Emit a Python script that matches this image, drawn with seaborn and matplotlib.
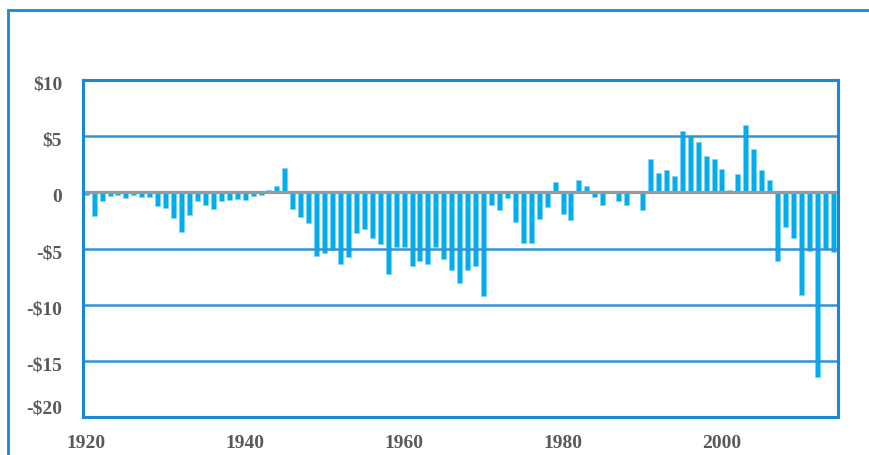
import matplotlib
matplotlib.use("Agg")
import matplotlib.pyplot as plt
import matplotlib.transforms as mtrans
from matplotlib.patches import Rectangle
import seaborn as sns
import pandas as pd

# yearly values (1920-2014)
years = list(range(1920, 2015))
values = [
    -0.2, -2.1, -0.8, -0.3, -0.2, -0.5, -0.25, -0.4, -0.4, -1.2,   # 1920s
    -1.4, -2.3, -3.5, -2.0, -0.8, -1.1, -1.5, -0.8, -0.7, -0.6,    # 1930s
    -0.65, -0.35, -0.2, 0.2, 0.6, 2.2, -1.5, -2.2, -2.7, -5.7,     # 1940s
    -5.4, -5.1, -6.4, -5.8, -3.6, -3.3, -4.1, -4.6, -7.3, -4.9,    # 1950s
    -4.85, -6.6, -6.1, -6.4, -4.9, -5.95, -6.9, -8.1, -6.9, -6.6,  # 1960s
    -9.2, -1.1, -1.55, -0.5, -2.6, -4.5, -4.5, -2.4, -1.35, 0.9,   # 1970s
    -1.9, -2.5, 1.1, 0.6, -0.4, -1.15, 0.15, -0.75, -1.15, 0.0,    # 1980s
    -1.55, 3.0, 1.75, 2.0, 1.45, 5.5, 5.0, 4.5, 3.25, 2.95,        # 1990s
    2.1, 0.2, 1.6, 5.95, 3.9, 1.95, 1.1, -6.1, -3.05, -4.1,        # 2000s
    -9.1, -5.2, -16.4, -5.05, -5.35,                               # 2010s
]
ytick_values = [10, 5, 0, -5, -10, -15, -20]
ytick_labels = ["\\$10", "\\$5", "0", "-\\$5", "-\\$10", "-\\$15", "-\\$20"]
xtick_values = [1920, 1940, 1960, 1980, 2000]

bar_color = "#00aeef"
frame_color = "#1a88d2"
grid_color = "#2f94d6"
text_color = "#595959"

sns.set_style("white")
plt.rcParams["font.family"] = ["Liberation Serif", "DejaVu Serif"]

fig = plt.figure(figsize=(8.69, 4.55), dpi=100)
ax = fig.add_axes([83 / 869, 1 - 417 / 455, (838 - 83) / 869, (417 - 80) / 455])

df = pd.DataFrame({"year": years, "value": values})
sns.barplot(data=df, x="year", y="value", native_scale=True, width=0.63,
            color=bar_color, saturation=1, errorbar=None,
            edgecolor="#7fd3f5", linewidth=0.4, ax=ax, zorder=2)

ax.set_xlim(1919.6, 2014.6)
ax.set_ylim(-20, 10)

# horizontal gridlines (drawn over the bars) + grey zero line
for v in [5, -5, -10, -15]:
    ax.axhline(v, color=grid_color, lw=1.8, zorder=2.5)
ax.axhline(0, color="#999999", lw=2.3, zorder=3)

for sp in ax.spines.values():
    sp.set_color(frame_color)
    sp.set_linewidth(2.2)
    sp.set_zorder(4)

ax.set_xticks(xtick_values)
ax.set_yticks(ytick_values, ytick_labels)
ax.set_xlabel("")
ax.set_ylabel("")
ax.tick_params(axis="both", length=0, labelsize=14, labelcolor=text_color)
ax.tick_params(axis="x", pad=13)
ax.tick_params(axis="y", pad=15)
for lab in ax.get_xticklabels() + ax.get_yticklabels():
    lab.set_fontweight("bold")

# small vertical nudges of the y labels, as in the reference
ylabs = ax.get_yticklabels()
for lab in ylabs[:-1]:
    lab.set_transform(lab.get_transform() + mtrans.ScaledTranslation(0, -0.03, fig.dpi_scale_trans))
ylabs[-1].set_transform(ylabs[-1].get_transform() + mtrans.ScaledTranslation(0, 0.10, fig.dpi_scale_trans))

# outer blue frame around the chart
fig.add_artist(Rectangle((8 / 869, -0.1), 1.2, (455 - 10) / 455 + 0.1,
                         transform=fig.transFigure, fill=False,
                         ec=frame_color, lw=2.0))

fig.savefig("out.png", dpi=100)
